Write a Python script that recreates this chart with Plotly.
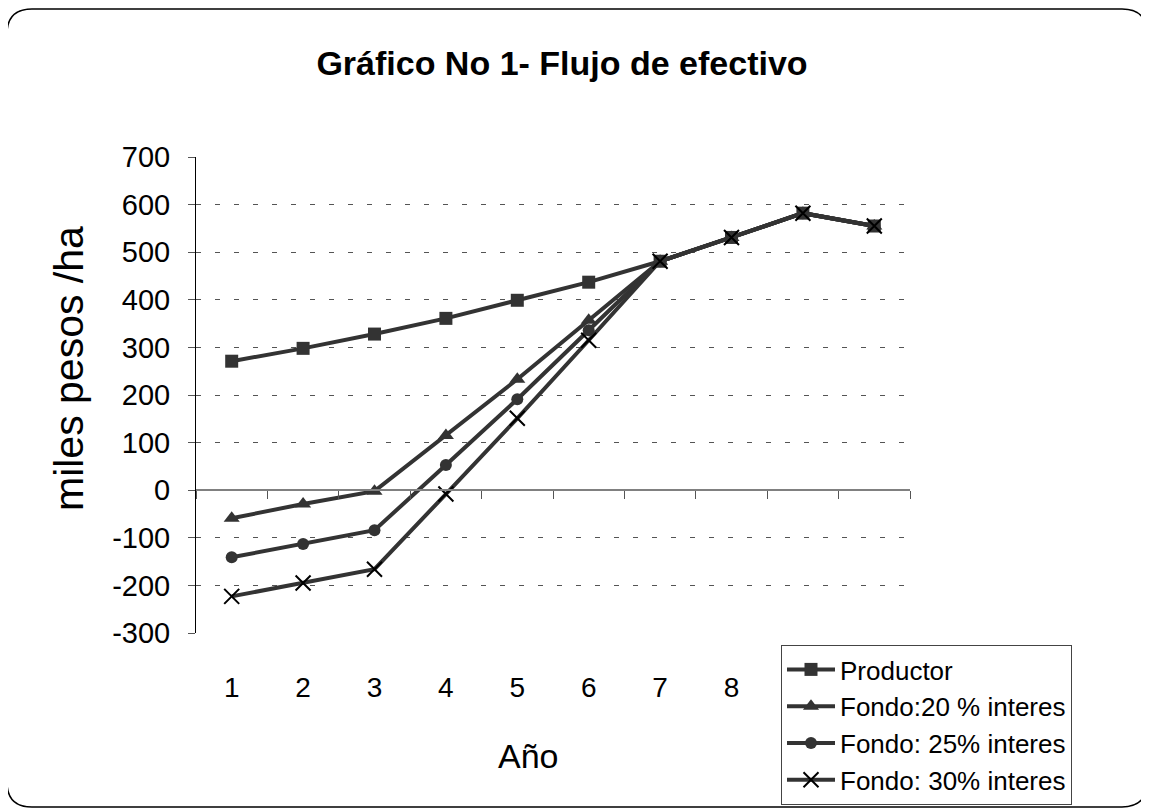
import plotly.graph_objects as go

# ---------------- data ----------------
anios = [1, 2, 3, 4, 5, 6, 7, 8, 9, 10]
tick_labels = ["1", "2", "3", "4", "5", "6", "7", "8", "9", "10"]
productor = [271, 298, 328, 361, 399, 437, 481, 531, 582, 555]
fondo_20 = [-59, -29, -2, 115, 233, 357, 481, 531, 582, 555]
fondo_25 = [-141, -113, -84, 53, 191, 336, 481, 531, 582, 555]
fondo_30 = [-223, -195, -166, -8, 151, 315, 481, 531, 582, 555]
nombres = ["Productor", "Fondo:20 % interes", "Fondo: 25% interes", "Fondo: 30% interes"]
y_ticks = [-300, -200, -100, 0, 100, 200, 300, 400, 500, 600, 700]
y_tick_text = ["-300", "-200", "-100", "0", "100", "200", "300", "400", "500", "600", "700"]
grid_vals = [-200, -100, 100, 200, 300, 400, 500, 600]
visible_labels = 8  # labels 9 and 10 sit behind the legend in the original

FONT = "Liberation Sans, Arial, sans-serif"
LINE = "#333333"

# screen geometry (pixels); the page body adds an 8px offset
OFF = 8
SW, SH = 1149, 809
W, H = SW - OFF, SH - OFF
L, R, T, B = 196, 910, 157, 633  # plot area in screen pixels


def px_x(p):
    return (p - L) / (R - L)


def px_y(p):
    return (B - p) / (B - T)


fig = go.Figure()

series = [productor, fondo_20, fondo_25, fondo_30]
markers = [
    dict(symbol="square", size=13, color=LINE),
    dict(symbol="triangle-up", size=14, color=LINE),
    dict(symbol="circle", size=12, color=LINE),
    dict(symbol="x-thin", size=15, color="black", line=dict(color="black", width=2)),
]
for name, vals, mk in zip(nombres, series, markers):
    fig.add_trace(go.Scatter(
        x=anios, y=vals, name=name, mode="lines+markers",
        line=dict(color=LINE, width=4), marker=mk,
    ))

# invisible helper trace so the category-axis-at-zero and the grid axis get drawn
fig.add_trace(go.Scatter(x=anios, y=productor, xaxis="x2", yaxis="y2", mode="markers",
                         marker=dict(opacity=0), showlegend=False, hoverinfo="skip"))

# rounded chart-area border
x0, x1 = px_x(7), px_x(1147)
y0, y1 = px_y(9), px_y(807)
rx, ry = 25 / (R - L), 25 / (B - T)
path = (f"M {x0+rx},{y0} L {x1-rx},{y0} Q {x1},{y0} {x1},{y0-ry} "
        f"L {x1},{y1+ry} Q {x1},{y1} {x1-rx},{y1} "
        f"L {x0+rx},{y1} Q {x0},{y1} {x0},{y1+ry} "
        f"L {x0},{y0-ry} Q {x0},{y0} {x0+rx},{y0} Z")
fig.add_shape(type="path", path=path, xref="paper", yref="paper",
              line=dict(color="black", width=1.5), layer="below")

fig.update_layout(
    width=W, height=H,
    margin=dict(l=L - OFF, r=SW - R, t=T - OFF, b=SH - B, autoexpand=False),
    paper_bgcolor="white", plot_bgcolor="white",
    font=dict(family=FONT, color="black", size=28),
    title=dict(text="<b>Gráfico No 1- Flujo de efectivo</b>", xref="container", yref="container",
               x=(562 - OFF) / W, y=1 - (63 - OFF) / H, xanchor="center", yanchor="middle",
               font=dict(family=FONT, size=34, color="black")),
    showlegend=True,
    legend=dict(x=px_x(781), y=px_y(645), xanchor="left", yanchor="top",
                bgcolor="white", bordercolor="#444444", borderwidth=1,
                font=dict(family=FONT, size=26, color="black"),
                tracegroupgap=0, itemwidth=48),
    xaxis=dict(range=[0.5, 10.5], tickmode="array", tickvals=anios[:visible_labels],
               ticktext=tick_labels[:visible_labels],
               showline=False, showgrid=False, zeroline=False, ticks="",
               ticklabelstandoff=35, tickfont=dict(size=28)),
    xaxis2=dict(overlaying="x", anchor="free", position=0.3, range=[0.5, 10.5],
                tickmode="linear", tick0=0.5, dtick=1, ticks="outside", ticklen=8,
                tickcolor="#555555", showticklabels=False, showline=True,
                linecolor="#808080", linewidth=2, showgrid=False, zeroline=False),
    yaxis=dict(range=[-300, 700], tickmode="array", tickvals=y_ticks, ticktext=y_tick_text,
               showline=True, linecolor="black", linewidth=1, ticks="outside",
               ticklen=7, tickcolor="#555555", showgrid=False, zeroline=False,
               ticklabelstandoff=12, tickfont=dict(size=29)),
    yaxis2=dict(overlaying="y", range=[-300, 700], tickmode="array", tickvals=grid_vals,
                showticklabels=False, ticks="", showgrid=True, gridcolor="#555555",
                gridwidth=1, griddash="5px,14px", zeroline=False, showline=False),
    annotations=[
        dict(text="miles pesos /ha", xref="paper", yref="paper", x=px_x(69), y=px_y(369),
             xanchor="center", yanchor="middle", textangle=-90, showarrow=False,
             font=dict(family=FONT, size=41, color="black")),
        dict(text="Año", xref="paper", yref="paper", x=px_x(528), y=px_y(756),
             xanchor="center", yanchor="middle", showarrow=False,
             font=dict(family=FONT, size=34, color="black")),
    ],
)

fig.write_html("out.html")
